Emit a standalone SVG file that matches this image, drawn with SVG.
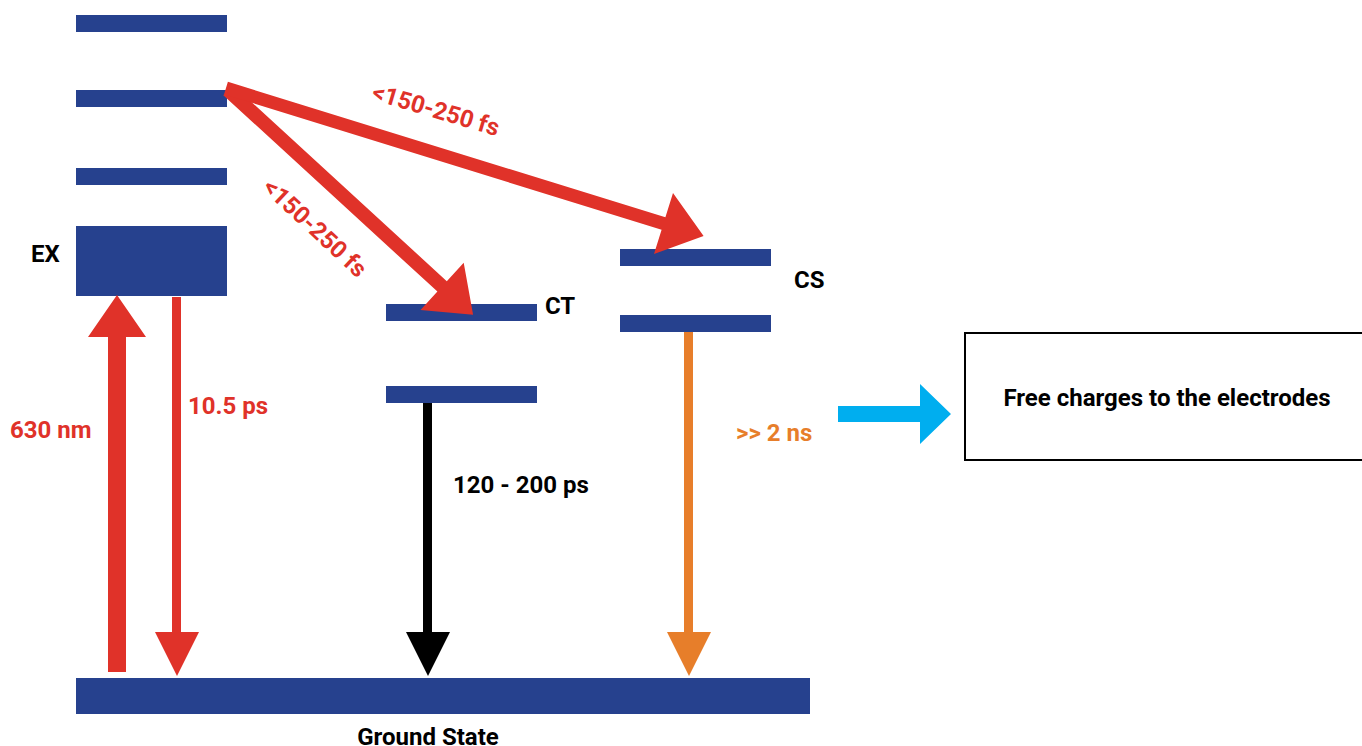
<svg xmlns="http://www.w3.org/2000/svg" width="1362" height="746" viewBox="0 0 1362 746">
<style>
.lvl{fill:#26418E}
.t{font-family:Roboto,"Liberation Sans",sans-serif;font-weight:700;font-size:24px}
.blk{fill:#000}
.red{fill:#E03229}
.org{fill:#E77E2A}
</style>
<rect width="1362" height="746" fill="#fff"/>
<g id="ex-levels">
<rect class="lvl" x="76" y="15" width="151" height="17"/>
<rect class="lvl" x="76" y="90" width="151" height="17"/>
<rect class="lvl" x="76" y="168" width="151" height="17"/>
<rect class="lvl" x="76" y="226" width="151" height="70"/>
<text class="t blk" x="31" y="262">EX</text>
</g>
<g id="ct-levels">
<rect class="lvl" x="386" y="304" width="151" height="17"/>
<rect class="lvl" x="386" y="386" width="151" height="17"/>
<text class="t blk" x="545" y="314">CT</text>
</g>
<g id="cs-levels">
<rect class="lvl" x="620" y="249" width="151" height="17"/>
<rect class="lvl" x="620" y="315" width="151" height="17"/>
<text class="t blk" x="794" y="288">CS</text>
</g>
<g id="ground">
<rect class="lvl" x="76" y="678" width="734" height="36"/>
<text class="t blk" x="428" y="745" text-anchor="middle">Ground State</text>
</g>
<g id="electrodes">
<rect x="965" y="333" width="398" height="127" fill="#fff" stroke="#000" stroke-width="2"/>
<text class="t blk" x="1167" y="406" text-anchor="middle">Free charges to the electrodes</text>
</g>
<g id="connectors">
<polygon class="red" points="108,672 108,337 88,337 117,295 146,337 126,337 126,672"/>
<polygon class="red" points="172,297 181,297 181,632 199,632 177,676 155,632 172,632"/>
<polygon fill="#000" points="423,403 432,403 432,632 450,632 428,676 406,632 423,632"/>
<polygon class="org" points="684,332 693,332 693,632 711,632 689,676 667,632 684,632"/>
<polygon fill="#00AEEF" points="838,406 920,406 920,384 951,414 920,444 920,422 838,422"/>
<polygon class="red" points="232.7,84.8 446.8,281.2 463.7,262.8 473.1,314.8 420.5,310.0 437.4,291.6 223.3,95.2"/>
<polygon class="red" points="227.9,81.8 665.4,217.3 673.0,192.9 703.6,235.9 654.0,254.1 661.6,229.7 224.1,94.2"/>
<text class="t red" x="10" y="438">630 nm</text>
<text class="t red" x="188" y="414">10.5 ps</text>
<text class="t blk" x="453" y="493">120 - 200 ps</text>
<text class="t org" x="736" y="441">&gt;&gt; 2 ns</text>
<text class="t red" transform="translate(436,110) rotate(16.5)" x="0" y="8" text-anchor="middle">&lt;150-250 fs</text>
<text class="t red" transform="translate(315,228) rotate(43)" x="0" y="8" text-anchor="middle">&lt;150-250 fs</text>
</g>
</svg>
